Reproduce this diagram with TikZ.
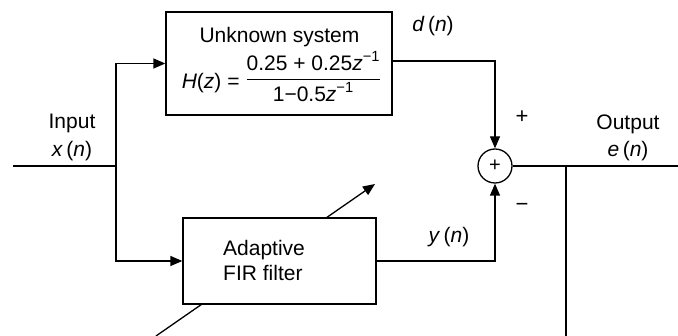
\documentclass[tikz,border=0pt]{standalone}
\usepackage{amsmath}
\usepackage{fontspec}
\setmainfont{Liberation Sans}
\usetikzlibrary{arrows.meta,positioning}
\newcommand{\vi}[1]{\textit{#1}}

\begin{document}
\begin{tikzpicture}[
  x=1pt,y=-1pt,
  font=\fontsize{21}{25}\selectfont,
  blk/.style={draw,line width=1.3pt,fill=white,inner sep=0pt},
  lbl/.style={anchor=base,inner sep=0pt},
  sgn/.style={inner sep=0pt,font=\fontsize{22}{22}\selectfont},
  wire/.style={line width=1.3pt},
  arr/.style={-{Triangle[length=12pt,width=10pt]},line width=1.3pt}
]
\useasboundingbox (0,0) rectangle (678,336);
% adaptation arrow first, the filter box hides its middle
\coordinate (adlo) at (156,336);
\coordinate (adhi) at (375,184);
\draw[arr] (adlo) -- (adhi);
\node[blk,minimum width=226pt,minimum height=103pt] (sys) at (279,63.5) {};
\node[blk,minimum width=193pt,minimum height=86pt] (fir) at (279.5,261) {};
\node[draw,circle,line width=1.3pt,minimum size=34pt,inner sep=0pt] (sum) at (495,166) {\fontsize{20}{20}\selectfont +};
\node[lbl] (systxt) at (279.5,43) {Unknown system};
\node[lbl] (hz) at (281.5,85) {\raisebox{-4pt}{\vi{H}(\vi{z}) =} $\dfrac{\text{0.25 + 0.25\vi{z}}^{\text{−1}}}{\text{1−0.5\vi{z}}^{\text{−1}}}$};
\node[lbl,anchor=base west] (firtxt) at (223,256) {Adaptive};
\node[lbl,anchor=base west] (firtxtb) at (223,281) {FIR filter};
% signal paths
\coordinate (xin) at (13,166);
\coordinate (split) at (116,166);
\coordinate (eout) at (678,166);
\coordinate (tap) at (566,166);
\coordinate (tapend) at (566,336);
\draw[wire] (xin) -- (split);
\draw[arr] (split) |- (sys.west);
\draw[arr] (split) |- (fir.west);
\draw[arr] ([yshift=2.5pt]sys.east) -| (sum.north);
\draw[arr] (fir.east) -| (sum.south);
\draw[wire] (sum.east) -- (eout);
\draw[wire] (tap) -- (tapend);
% labels
\node[lbl] (inlbl) at (72,129) {Input};
\node[lbl] (xlbl) at (72,157) {\vi{x}\,(\vi{n})};
\node[lbl] (outlbl) at (628,130) {Output};
\node[lbl] (elbl) at (628,157) {\vi{e}\,(\vi{n})};
\node[lbl] (dlbl) at (433,32) {\vi{d}\,(\vi{n})};
\node[lbl] (ylbl) at (449,243) {\vi{y}\,(\vi{n})};
\node[sgn] (plus) at (522,117) {+};
\node[sgn] (minus) at (522,207) {−};
\end{tikzpicture}
\end{document}
